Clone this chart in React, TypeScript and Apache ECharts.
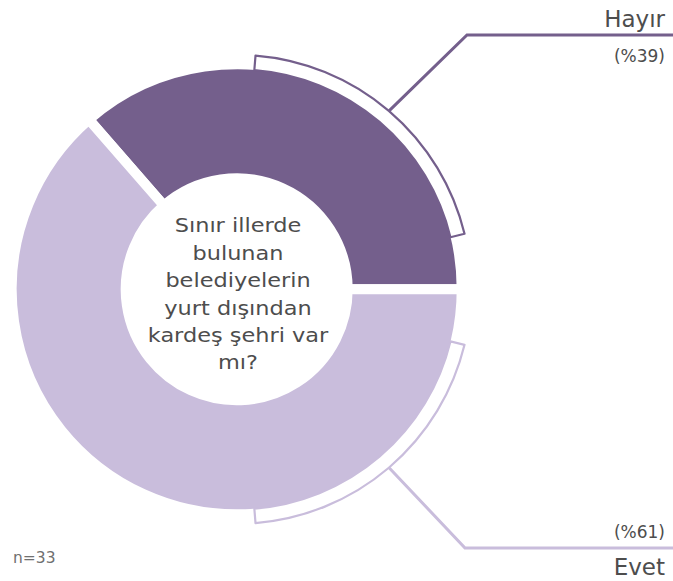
import { useEffect, useRef } from "react";
import * as echarts from "echarts";

// Data
const categories = ["Hayır", "Evet"];
const sliceShares = [36.4, 63.6]; // arc shares
const percentLabels = ["(%39)", "(%61)"];
const sliceColors = ["#745f8c", "#c9bddc"];
const centerQuestion = "Sınır illerde\nbulunan\nbelediyelerin\nyurt dışından\nkardeş şehri var\nmı?";
const sampleNote = "n=33";

// Layout
const W = 673;
const H = 581;
const CX = 236.7;
const CY = 289.3;
const FONT = "'DejaVu Sans', sans-serif";
const TEXT = "#4d4d4d";

function polar(r: number, deg: number): [number, number] {
  const a = (deg * Math.PI) / 180;
  return [CX + r * Math.cos(a), CY - r * Math.sin(a)];
}

export default function App() {
  const ref = useRef<HTMLDivElement>(null);
  useEffect(() => {
    document.body.style.margin = "0";
    if (!ref.current) return;
    const chart = echarts.init(ref.current, null, { renderer: "svg" });

    // decorative outline bands (degrees): start at 85.4°, clockwise
    const bandStart = 85.4;
    const bandSegs = [71.7, 27.4, 71.7, 189.2];
    const bandData = bandSegs.map((v, i) => {
      const isBand = i === 0 || i === 2;
      const col = i === 0 ? sliceColors[0] : sliceColors[1];
      return {
        value: v,
        name: "band" + i,
        itemStyle: isBand
          ? { color: "#ffffff", borderColor: col, borderWidth: 2.2 }
          : { color: "rgba(0,0,0,0)", borderWidth: 0 },
      };
    });

    const hA = polar(235, 49.5);
    const eA = polar(235, -49.5);

    chart.setOption({
      animation: false,
      series: [
        {
          type: "pie",
          center: [CX, CY],
          radius: [111, 225],
          startAngle: 0,
          clockwise: false,
          silent: true,
          label: { show: false },
          labelLine: { show: false },
          emphasis: { disabled: true },
          itemStyle: { borderColor: "#ffffff", borderWidth: 10 },
          data: categories.map((c, i) => ({
            name: c,
            value: sliceShares[i],
            itemStyle: { color: sliceColors[i] },
          })),
        },
        {
          type: "pie",
          center: [CX, CY],
          radius: [220, 234.5],
          startAngle: bandStart,
          clockwise: true,
          silent: true,
          label: { show: false },
          labelLine: { show: false },
          emphasis: { disabled: true },
          data: bandData,
        },
      ],
      graphic: [
        {
          type: "polyline",
          shape: { points: [hA, [467, 35], [673, 35]] },
          style: { stroke: sliceColors[0], lineWidth: 3, fill: "none" },
          silent: true,
        },
        {
          type: "polyline",
          shape: { points: [eA, [465, 548], [673, 548]] },
          style: { stroke: sliceColors[1], lineWidth: 3, fill: "none" },
          silent: true,
        },
        {
          type: "text",
          x: 665,
          y: 19,
          style: {
            text: categories[0],
            font: `23px ${FONT}`,
            lineHeight: 22,
            fill: TEXT,
            textAlign: "right",
            textVerticalAlign: "middle",
          },
        },
        {
          type: "text",
          x: 665,
          y: 56,
          style: {
            text: percentLabels[0],
            font: `17px ${FONT}`,
            lineHeight: 20,
            fill: TEXT,
            textAlign: "right",
            textVerticalAlign: "middle",
          },
        },
        {
          type: "text",
          x: 665,
          y: 532,
          style: {
            text: percentLabels[1],
            font: `17px ${FONT}`,
            lineHeight: 20,
            fill: TEXT,
            textAlign: "right",
            textVerticalAlign: "middle",
          },
        },
        {
          type: "text",
          x: 665,
          y: 567,
          style: {
            text: categories[1],
            font: `23px ${FONT}`,
            lineHeight: 22,
            fill: TEXT,
            textAlign: "right",
            textVerticalAlign: "middle",
          },
        },
        {
          type: "text",
          x: 238,
          y: 294,
          scaleX: 1.15,
          style: {
            text: centerQuestion,
            font: `19.5px ${FONT}`,
            lineHeight: 27.4,
            fill: TEXT,
            textAlign: "center",
            textVerticalAlign: "middle",
          },
        },
        {
          type: "text",
          x: 13,
          y: 558,
          style: {
            text: sampleNote,
            font: `15.5px ${FONT}`,
            fill: "#707070",
            textAlign: "left",
            textVerticalAlign: "middle",
          },
        },
      ],
    });
    return () => chart.dispose();
  }, []);
  return <div ref={ref} style={{ width: W, height: H }} />;
}
